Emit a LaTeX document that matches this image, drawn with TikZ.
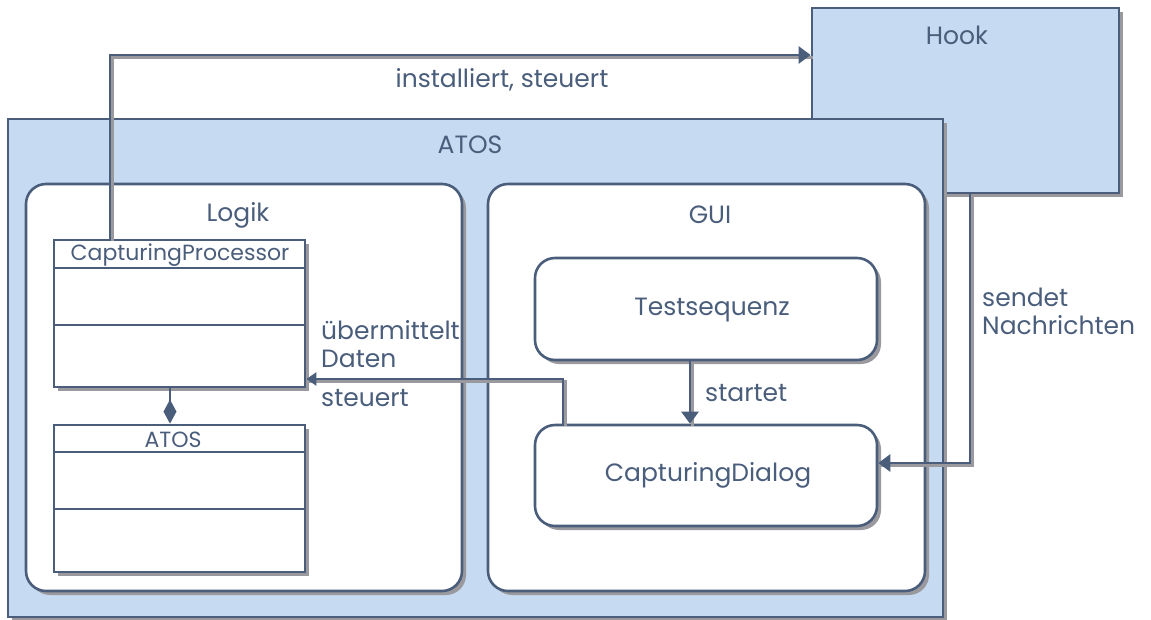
\documentclass[tikz,border=0pt]{standalone}
\usepackage{fontspec}
\setmainfont{Poppins}
\usetikzlibrary{arrows.meta,shadows}
\definecolor{ink}{HTML}{4A5E7C}
\definecolor{pale}{HTML}{C6DAF1}
\definecolor{shade}{HTML}{9A9A9E}
\tikzset{
  every node/.style={text=ink, font=\fontsize{25}{28}\selectfont},
  sh/.style={drop shadow={shadow xshift=4pt, shadow yshift=-4pt, fill=shade, opacity=1}},
  panel/.style={draw=ink, line width=2.8pt, fill=pale, sh, inner sep=0pt},
  region/.style={draw=ink, line width=2.6pt, fill=white, rounded corners=20pt, sh, inner sep=0pt},
  classbox/.style={draw=ink, line width=2.8pt, fill=white, sh, inner sep=0pt},
  wire/.style={draw=ink, line width=2.8pt},
  wireshadow/.style={draw=shade, line width=2.8pt, transform canvas={xshift=2.5pt, yshift=-2.5pt}},
  tip/.style={-{Triangle[length=12pt,width=17pt]}},
  lbl/.style={inner sep=0pt, align=left}
}
\begin{document}
\begin{tikzpicture}[x=1pt, y=-1pt]
\useasboundingbox (0,0) rectangle (1151,619);

% external hook process
\node[panel, minimum width=307pt, minimum height=185pt] (hook) at (965.5,100.5) {};
\node (hooklbl) at (957,35) {Hook};

% application frame
\node[panel, minimum width=935pt, minimum height=498pt] (atos) at (475.5,368) {};
\node (atoslbl) at (470,145) {ATOS};

% logic and GUI regions
\node[region, minimum width=436pt, minimum height=407pt] (logik) at (244,387.5) {};
\node (logiklbl) at (238,215) {Logik};
\node[region, minimum width=437pt, minimum height=407pt] (gui) at (706.5,387.5) {};
\node (guilbl) at (710,215) {GUI};

% class boxes
\node[classbox, minimum width=251pt, minimum height=147pt] (cp) at (179.5,313.5) {};
\draw[ink, line width=2.8pt] (54,268) -- (305,268) (54,325) -- (305,325);
\node[font=\fontsize{22}{26}\selectfont] (cplbl) at (180,255) {CapturingProcessor};

\node[classbox, minimum width=251pt, minimum height=147pt] (atosc) at (179.5,498.5) {};
\draw[ink, line width=2.8pt] (54,452) -- (305,452) (54,509) -- (305,509);
\node[font=\fontsize{22}{26}\selectfont] (atosclbl) at (173,440) {ATOS};

% GUI components
\node[region, minimum width=342pt, minimum height=102pt] (test) at (706,309) {};
\node (testlbl) at (712,310) {Testsequenz};
\node[region, minimum width=342pt, minimum height=101pt] (dialog) at (706,475.5) {};
\node (dialoglbl) at (708,475) {CapturingDialog};

% connectors: shadows first
\draw[wireshadow] ([xshift=-69.5pt]cp.north) |- ([yshift=45.5pt]hook.west);
\draw[wireshadow] ([xshift=4.5pt]hook.south) |- ([yshift=12.5pt]dialog.east);
\draw[wireshadow] ([xshift=-143pt]dialog.north) |- ([yshift=-65.5pt]cp.east);
\draw[wireshadow] ([xshift=-16pt]test.south) -- ([xshift=-16pt]dialog.north);

\draw[wire, tip] ([xshift=-69.5pt]cp.north) |- ([yshift=45.5pt]hook.west);
\draw[wire, tip] ([xshift=4.5pt]hook.south) |- ([yshift=12.5pt]dialog.east);
\draw[wire, -{Triangle[length=10pt,width=13pt]}] ([xshift=-143pt]dialog.north) |- ([yshift=-65.5pt]cp.east);
\draw[wire, tip] ([xshift=-16pt]test.south) -- ([xshift=-16pt]dialog.north);
\draw[wire, {Diamond[length=24pt,width=13pt]}-] ([xshift=-9.5pt]atosc.north) -- ([xshift=-9.5pt]cp.south);

% connector labels
\node[lbl] (lbl1) at (502,80) {installiert, steuert};
\node[lbl, anchor=west] (lbl2) at (982,311) {sendet\\Nachrichten};
\node[lbl, anchor=west] (lbl3) at (321,344) {übermittelt\\Daten};
\node[lbl, anchor=west] (lbl4) at (321,398) {steuert};
\node[lbl, anchor=west] (lbl5) at (705,393) {startet};
\end{tikzpicture}
\end{document}
